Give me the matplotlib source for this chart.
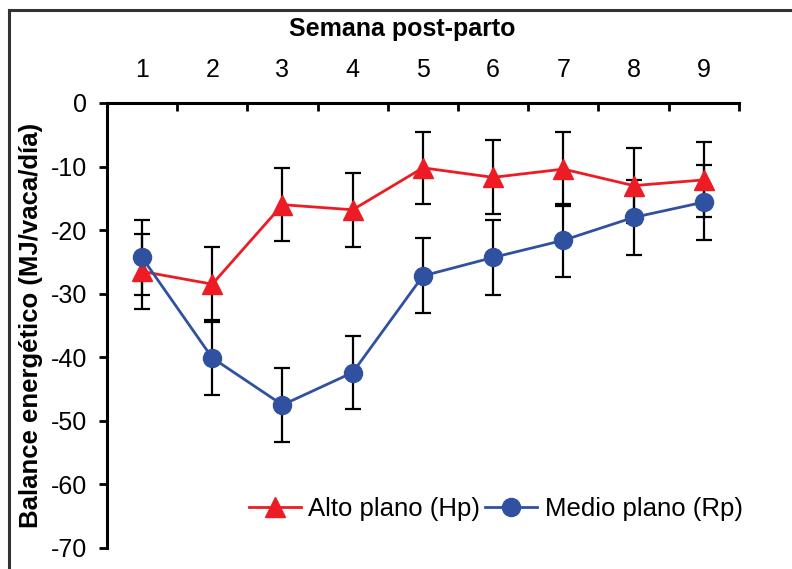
import matplotlib
matplotlib.use("Agg")
import matplotlib.pyplot as plt
from matplotlib.lines import Line2D

plt.rcParams["font.family"] = ["Liberation Sans", "DejaVu Sans"]
plt.rcParams["axes.unicode_minus"] = False

weeks = [1, 2, 3, 4, 5, 6, 7, 8, 9]
alto = [-26.5, -28.5, -16.0, -16.8, -10.2, -11.7, -10.4, -13.0, -12.1]
alto_err = [5.9, 5.9, 5.7, 5.8, 5.7, 5.8, 5.8, 5.9, 5.9]
medio = [-24.3, -40.1, -47.5, -42.4, -27.2, -24.3, -21.6, -18.0, -15.6]
medio_err = [5.9, 5.9, 5.8, 5.8, 5.9, 5.9, 5.7, 5.9, 5.9]
y_ticks = [0, -10, -20, -30, -40, -50, -60, -70]

red = "#ED1C24"
blue = "#3050A0"

fig = plt.figure(figsize=(7.92, 5.69), dpi=100)
ax = fig.add_axes([0.135, 0.037, 0.798, 0.782])

# frame around the picture (left and top edges only are visible)
fig.add_artist(Line2D([0.0115, 0.0115], [0, 0.982], color="#333333", lw=2.2,
                      transform=fig.transFigure))
fig.add_artist(Line2D([0.0115, 1], [0.982, 0.982], color="#333333", lw=2.2,
                      transform=fig.transFigure))

# error bars
ax.errorbar(weeks, alto, yerr=alto_err, fmt="none", ecolor="black",
            elinewidth=1.6, capsize=5.8, capthick=1.6, zorder=1)
ax.errorbar(weeks, medio, yerr=medio_err, fmt="none", ecolor="black",
            elinewidth=1.6, capsize=5.8, capthick=1.6, zorder=1)

ax.plot(weeks, alto, color=red, lw=2, marker="^", markersize=15,
        label="Alto plano (Hp)", zorder=2)
ax.plot(weeks, medio, color=blue, lw=2, marker="o", markersize=13,
        label="Medio plano (Rp)", zorder=3)

ax.set_xlim(0.5, 9.5)
ax.set_ylim(-70, 0)

ax.xaxis.set_ticks_position("top")
ax.xaxis.set_label_position("top")
ax.set_xticks(weeks)
ax.set_xticks([1.5, 2.5, 3.5, 4.5, 5.5, 6.5, 7.5, 8.5, 9.5], minor=True)
ax.tick_params(axis="x", which="major", length=0, pad=15, labelsize=18)
ax.tick_params(axis="x", which="minor", direction="in", length=6, width=2)
ax.set_yticks(y_ticks)
ax.tick_params(axis="y", direction="out", length=6, width=2, labelsize=18, pad=8)

for side in ["bottom", "right"]:
    ax.spines[side].set_visible(False)
for side in ["top", "left"]:
    ax.spines[side].set_linewidth(2.2)

ax.set_xlabel("Semana post-parto", fontsize=18, fontweight="bold", labelpad=10)
ax.xaxis.set_label_coords(0.468, 1.14)
ax.xaxis.label.set_verticalalignment("bottom")
ax.set_ylabel("Balance energético (MJ/vaca/día)", fontsize=18.5, fontweight="bold",
              labelpad=6)

ax.legend(loc="lower right", bbox_to_anchor=(1.022, 0.037), ncol=2, frameon=False,
          fontsize=18.5, handlelength=2.0, handletextpad=0.3, columnspacing=0.2,
          borderaxespad=0)

fig.savefig("out.png", dpi=100)
